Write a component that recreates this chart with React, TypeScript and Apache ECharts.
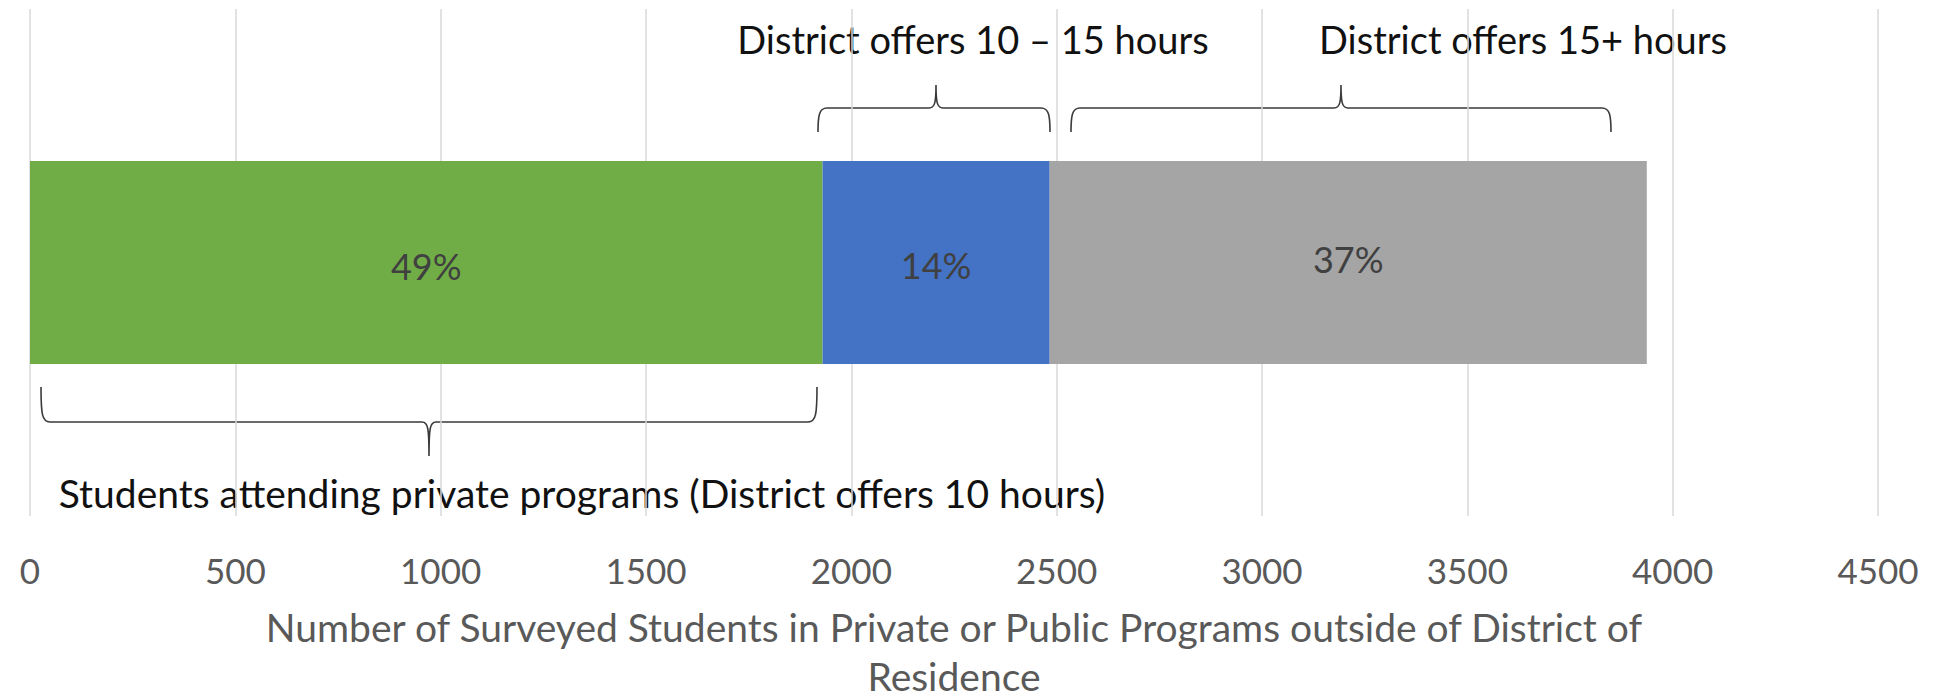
import React, { useEffect, useRef } from "react";
import * as echarts from "echarts";

const categories = ["Students"];
const seriesNames = ["Private (District offers 10 hours)", "District offers 10 – 15 hours", "District offers 15+ hours"];
const privateValues = [1930];
const midValues = [553];
const highValues = [1454];
const seriesColors = ["#70AD47", "#4472C4", "#A5A5A5"];
const xTicks = { min: 0, max: 4500, interval: 500 };
const axisTitle = "Number of Surveyed Students in Private or Public Programs outside of District of\nResidence";
const annotationTexts = [
  "District offers 10 – 15 hours",
  "District offers 15+ hours",
  "Students attending private programs (District offers 10 hours)",
];

const FONT = "Lato, 'Open Sans', sans-serif";

function braceDown(x1: number, x2: number, xp: number, yEnd: number, yMid: number, yPeak: number) {
  return [
    `M ${x1} ${yEnd}`,
    `C ${x1} ${yMid + 8} ${x1 + 1} ${yMid} ${x1 + 9} ${yMid}`,
    `L ${xp - 7} ${yMid}`,
    `C ${xp - 1} ${yMid} ${xp} ${yMid - 6} ${xp} ${yPeak}`,
    `C ${xp} ${yMid - 6} ${xp + 1} ${yMid} ${xp + 7} ${yMid}`,
    `L ${x2 - 9} ${yMid}`,
    `C ${x2 - 1} ${yMid} ${x2} ${yMid + 8} ${x2} ${yEnd}`,
  ].join(" ");
}

function braceUp(x1: number, x2: number, xp: number, yEnd: number, yMid: number, yPeak: number) {
  return [
    `M ${x1} ${yEnd}`,
    `C ${x1} ${yMid - 8} ${x1 + 1} ${yMid} ${x1 + 9} ${yMid}`,
    `L ${xp - 7} ${yMid}`,
    `C ${xp - 1} ${yMid} ${xp} ${yMid + 6} ${xp} ${yPeak}`,
    `C ${xp} ${yMid + 6} ${xp + 1} ${yMid} ${xp + 7} ${yMid}`,
    `L ${x2 - 9} ${yMid}`,
    `C ${x2 - 1} ${yMid} ${x2} ${yMid - 8} ${x2} ${yEnd}`,
  ].join(" ");
}

let registered = false;
function registerBraces() {
  if (registered) return;
  registered = true;
  echarts.graphic.registerShape("braceA", echarts.graphic.extendPath(braceDown(818, 1050, 936, 132, 108, 85), {}) as any);
  echarts.graphic.registerShape("braceB", echarts.graphic.extendPath(braceDown(1071, 1611, 1341, 132, 108, 85), {}) as any);
  echarts.graphic.registerShape("braceC", echarts.graphic.extendPath(braceUp(41, 817, 429, 387, 422, 456), {}) as any);
}

export default function App() {
  const ref = useRef<HTMLDivElement>(null);
  useEffect(() => {
    if (!ref.current) return;
    registerBraces();
    const chart = echarts.init(ref.current, null, { renderer: "svg" });
    const total = privateValues[0] + midValues[0] + highValues[0];
    const allValues = [privateValues, midValues, highValues];
    const labelOffsets = [[0, 3], [0, 2], [0, -4]];
    const braceStyle = { fill: null, stroke: "#3a3a3a", lineWidth: 1.6 };
    const textStyle = (size: number) => ({ fill: "#111111", font: `${size}px ${FONT}`, textAlign: "center", textVerticalAlign: "middle" });
    chart.setOption({
      animation: false,
      backgroundColor: "#ffffff",
      grid: { left: 30, right: 55, top: 9, bottom: 183, containLabel: false, outerBoundsMode: "none" },
      xAxis: {
        type: "value",
        min: xTicks.min,
        max: xTicks.max,
        interval: xTicks.interval,
        axisLine: { show: false },
        axisTick: { show: false },
        splitLine: { show: true, lineStyle: { color: "#d9d9d9", width: 1.5 } },
        axisLabel: { color: "#595959", fontSize: 35, fontFamily: FONT, margin: 36, formatter: (v: number) => String(v) },
        name: axisTitle,
        nameLocation: "middle",
        nameGap: 86,
        nameTextStyle: { color: "#595959", fontSize: 39, fontFamily: FONT, lineHeight: 49, align: "center" },
      },
      yAxis: {
        type: "category",
        data: categories,
        axisLine: { show: false },
        axisTick: { show: false },
        axisLabel: { show: false },
        splitLine: { show: false },
      },
      series: allValues.map((vals, i) => ({
        name: seriesNames[i],
        type: "bar",
        stack: "total",
        barWidth: "40%",
        data: vals,
        itemStyle: { color: seriesColors[i] },
        label: {
          show: true,
          position: "inside",
          color: "#404040",
          fontSize: 36,
          fontFamily: FONT,
          offset: labelOffsets[i],
          formatter: (p: any) => `${Math.round((p.value / total) * 100)}%`,
        },
      })),
      graphic: [
        { type: "braceA", x: 0, y: 0, style: braceStyle, silent: true },
        { type: "braceB", x: 0, y: 0, style: braceStyle, silent: true },
        { type: "braceC", x: 0, y: 0, style: braceStyle, silent: true },
        { type: "text", x: 973, y: 39, style: { text: annotationTexts[0], ...textStyle(38) } },
        { type: "text", x: 1523, y: 39, style: { text: annotationTexts[1], ...textStyle(38) } },
        { type: "text", x: 582, y: 493, style: { text: annotationTexts[2], ...textStyle(39) } },
      ],
    });
    return () => chart.dispose();
  }, []);
  return <div ref={ref} style={{ position: "absolute", left: 0, top: 0, width: 1933, height: 699 }} />;
}
